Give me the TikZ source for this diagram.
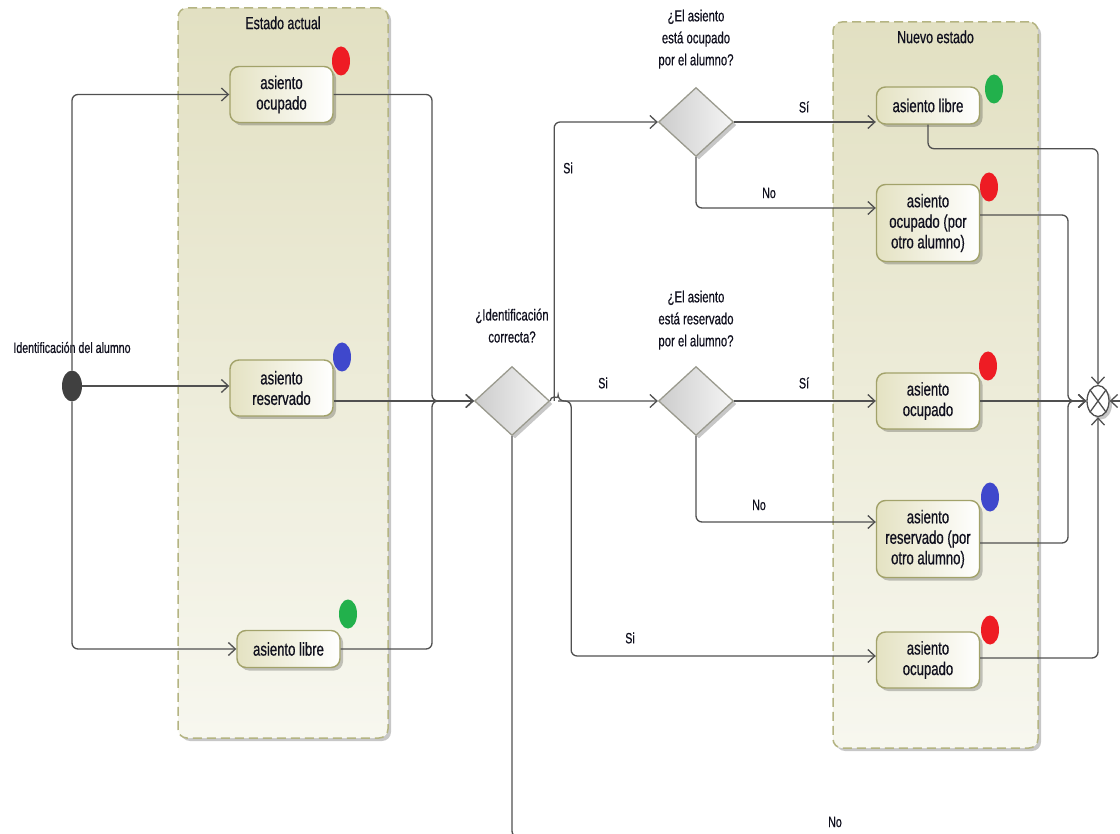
\documentclass[tikz,border=0pt]{standalone}
\usepackage{fontspec}
\setmainfont{Liberation Sans}[FakeStretch=0.71, FakeBold=0.6]
\usetikzlibrary{positioning}
\usetikzlibrary{arrows.meta}
\usetikzlibrary{shapes.geometric}
\usetikzlibrary{shadows}
\definecolor{carrilborde}{HTML}{B4B482}
\definecolor{carrilarriba}{HTML}{E2E0C2}
\definecolor{carrilabajo}{HTML}{F7F7EF}
\definecolor{estadoborde}{HTML}{A2A26A}
\definecolor{estadofondo}{HTML}{E4E2C2}
\definecolor{romboborde}{HTML}{9A9A8E}
\definecolor{linea}{HTML}{505050}
\definecolor{texto}{HTML}{10101E}
\definecolor{rojo}{HTML}{EE1C24}
\definecolor{azul}{HTML}{3F48CC}
\definecolor{verde}{HTML}{22B14C}
\tikzset{sombra/.style={drop shadow={shadow xshift=3pt, shadow yshift=-3pt, fill=black, opacity=0.22}},
carril/.style={draw=carrilborde, line width=1.5pt, dash pattern=on 9pt off 5pt,
  rounded corners=9pt, top color=carrilarriba, bottom color=carrilabajo, sombra},
titulo/.style={inner sep=0pt, text=texto, font=\fontsize{17.5}{20}\selectfont},
estado/.style={draw=estadoborde, line width=1.4pt, rounded corners=9pt,
  left color=estadofondo, right color=white, sombra, align=center,
  minimum width=103pt, inner sep=0pt, text=texto, font=\fontsize{18.5}{20.5}\selectfont},
uno/.style={minimum height=37pt}, dos/.style={minimum height=56pt}, tres/.style={minimum height=77pt},
decision/.style={diamond, draw=romboborde, line width=1.3pt, left color=black!20,
  right color=black!4, sombra, minimum width=75pt, minimum height=69pt, inner sep=0pt},
punto/.style={ellipse, minimum width=18pt, minimum height=29pt, inner sep=0pt},
flujo/.style={draw=linea, line width=1.3pt, rounded corners=6pt, -{Straight Barb[length=7pt,width=13pt]}}}
\begin{document}
\begin{tikzpicture}[x=1pt, y=-1pt,
  pregunta/.style={align=center, inner sep=0pt, text=texto, font=\fontsize{16}{22}\selectfont},
  guarda/.style={inner sep=0pt, text=texto, font=\fontsize{15}{18}\selectfont}]
\useasboundingbox (0,0) rectangle (1120,834);

% carriles
\node[carril, minimum width=210pt, minimum height=730pt] (actual) at (283,373) {};
\node[titulo, below=9pt of actual.north] (tactual) {Estado actual};
\node[carril, minimum width=205pt, minimum height=726pt] (nuevo) at (935.5,385) {};
\node[titulo, below=9pt of nuevo.north] (tnuevo) {Nuevo estado};

% estado actual
\node[estado, dos] (ocup) at (281.5,94.5) {asiento\\ocupado};
\node[estado, dos] (reserv) at (281.5,388) {asiento\\reservado};
\node[estado, uno] (libre) at (288.5,649) {asiento libre};
\node[punto, fill=rojo] (p1) at (341,61) {};
\node[punto, fill=azul] (p2) at (342,357) {};
\node[punto, fill=verde] (p3) at (348,614) {};

\node[ellipse, fill=black!75, minimum width=20pt, minimum height=31pt, inner sep=0pt] (ini) at (72,386) {};
\node[guarda, above=17pt of ini] (tini) {Identificación del alumno};

% decisiones
\node[decision] (d1) at (512,401) {};
\node[pregunta, above=23pt of d1] (td1) {¿Identificación\\correcta?};
\node[decision] (d2) at (696,122) {};
\node[pregunta, above=18pt of d2] (td2) {¿El asiento\\está ocupado\\por el alumno?};
\node[decision] (d3) at (696,401) {};
\node[pregunta, above=16pt of d3] (td3) {¿El asiento\\está reservado\\por el alumno?};

% nuevo estado
\node[estado, uno] (alibre) at (928,105.5) {asiento libre};
\node[estado, tres] (aotro) at (928,223) {asiento\\ocupado (por\\otro alumno)};
\node[estado, dos] (nocup) at (928,401) {asiento\\ocupado};
\node[estado, tres] (rotro) at (928,539) {asiento\\reservado (por\\otro alumno)};
\node[estado, dos] (bocup) at (928,660) {asiento\\ocupado};
\node[punto, fill=verde] (p4) at (994,89) {};
\node[punto, fill=rojo] (p5) at (989,187) {};
\node[punto, fill=rojo] (p6) at (988,366) {};
\node[punto, fill=azul] (p7) at (990,497) {};
\node[punto, fill=rojo] (p8) at (990,630) {};

\node[ellipse, draw=linea, fill=white, line width=1.3pt, minimum width=22pt, minimum height=31pt, inner sep=0pt, sombra] (fin) at (1098,401) {};
\draw[linea, line width=1.3pt] (fin.north east) -- (fin.south west) (fin.north west) -- (fin.south east);

\coordinate (j1) at (432,401);
\coordinate (jfin) at (1068,401);
\coordinate (nofin) at (1000,837);
\coordinate (derecha) at (1124,401);

% flujos
\draw[flujo] (ini) |- (ocup);
\draw[flujo] (ini.east) -- (reserv.west |- ini.east);
\draw[flujo] (ini) |- (libre);
\draw[flujo] (ocup.east) -| (j1) -- (d1.west);
\draw[flujo] (reserv.east |- d1.west) -- (d1.west);
\draw[flujo] (libre.east) -| (j1) -- (d1.west);

\draw[flujo] ([xshift=4pt]d1.east) |- (d2.west);
\draw[flujo] (d1.east) arc[start angle=180, end angle=0, radius=4pt] -- (d3.west);
\draw[flujo] ([xshift=8pt]d1.east) -- ++(13,0) |- ([yshift=4pt]bocup.west);
\begin{scope}
\clip (0,0) rectangle (1120,834);
\draw[flujo, -] (d1.south) |- (nofin);
\end{scope}

\draw[flujo] (d2.east) -- (alibre.west |- d2.east);
\draw[flujo] (d2.south) |- ([yshift=15pt]aotro.west);
\draw[flujo] (d3.east) -- (nocup.west);
\draw[flujo] (d3.south) |- ([yshift=17pt]rotro.west);

\draw[flujo] (alibre.south) -- ++(0,24) -| (fin.north);
\draw[flujo] ([yshift=8pt]aotro.east) -| (jfin) -- (fin.west);
\draw[flujo] (nocup.east) -- (fin.west);
\draw[flujo] ([yshift=-4pt]rotro.east) -| (jfin) -- (fin.west);
\draw[flujo] ([yshift=2pt]bocup.east) -| (fin.south);
\draw[flujo] (derecha) -- (fin.east);

% guardas
\node[guarda] (g1) at (568,168) {Si};
\node[guarda] (g2) at (603,383) {Si};
\node[guarda] (g3) at (630,638) {Si};
\node[guarda] (g4) at (835,822) {No};
\node[guarda] (g5) at (804,107) {Sí};
\node[guarda] (g6) at (769,193) {No};
\node[guarda] (g7) at (804,383) {Sí};
\node[guarda] (g8) at (759,505) {No};
\end{tikzpicture}
\end{document}
